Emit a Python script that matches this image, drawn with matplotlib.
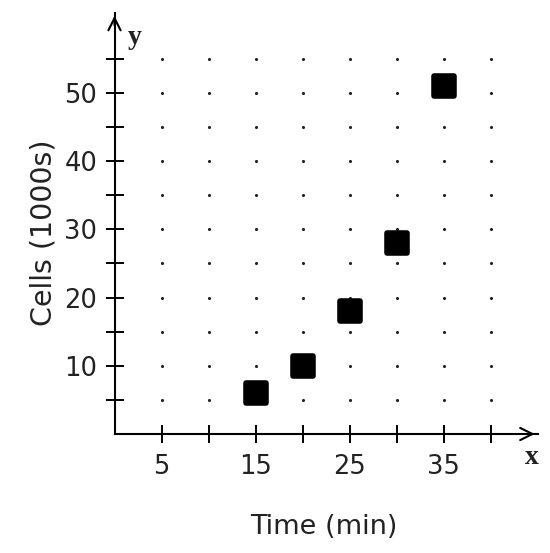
import matplotlib
matplotlib.use('Agg')
from matplotlib import pyplot as plt
from matplotlib.markers import MarkerStyle

# data
time_min = [15, 20, 25, 30, 35]
cells_k = [6, 10, 18, 28, 51]

x_labeled = [5, 15, 25, 35]
x_unlabeled = [10, 20, 30, 40]
y_labeled = [10, 20, 30, 40, 50]
y_unlabeled = [5, 15, 25, 35, 45, 55]

grid_x = [5, 10, 15, 20, 25, 30, 35, 40]
grid_y = [5, 10, 15, 20, 25, 30, 35, 40, 45, 50, 55]

text_color = '#222222'

fig = plt.figure(figsize=(5.5, 5.53), dpi=100)
ax = fig.add_axes([114.5 / 550, 119 / 553, 423 / 550, 421 / 553])
ax.set_xlim(0, 45)
ax.set_ylim(0, 61.7)

for s in ['top', 'right']:
    ax.spines[s].set_visible(False)
for s in ['left', 'bottom']:
    ax.spines[s].set_linewidth(1.5)
    ax.spines[s].set_color('black')

# dotted grid
gx = [x for x in grid_x for _ in grid_y]
gy = [y for _ in grid_x for y in grid_y]
ax.scatter(gx, gy, s=5, color='#222222', marker='o', linewidths=0, zorder=1)

# data points as rounded squares
ax.plot(time_min, cells_k, linestyle='none',
        marker=MarkerStyle('s', joinstyle='round'),
        ms=14, mfc='black', mec='black', mew=4, zorder=3)

ax.set_xticks(x_labeled)
ax.set_xticklabels([str(v) for v in x_labeled])
ax.set_xticks(x_unlabeled, minor=True)
ax.set_yticks(y_labeled)
ax.set_yticklabels([str(v) for v in y_labeled])
ax.set_yticks(y_unlabeled, minor=True)

ax.tick_params(which='both', direction='inout', length=13, width=1.4,
               color='black', labelcolor=text_color, labelsize=18.5)
ax.tick_params(axis='x', which='major', pad=8)
ax.tick_params(axis='y', which='major', pad=6)

# arrow heads on the axes
ax.annotate('', xy=(45, 0), xytext=(43.5, 0),
            arrowprops=dict(arrowstyle='->', lw=1.5, mutation_scale=22, color='black'),
            annotation_clip=False)
ax.annotate('', xy=(0, 61.7), xytext=(0, 59.5),
            arrowprops=dict(arrowstyle='->', lw=1.5, mutation_scale=22, color='black'),
            annotation_clip=False)

fig.text(532 / 550, 1 - 458 / 553, 'x', family='Liberation Serif', weight='bold',
         fontsize=20, color=text_color, ha='center', va='center')
fig.text(135 / 550, 1 - 38 / 553, 'y', family='Liberation Serif', weight='bold',
         fontsize=20, color=text_color, ha='center', va='center')

fig.text(324 / 550, 1 - 527 / 553, 'Time (min)', fontsize=19.5, color=text_color,
         ha='center', va='center')
fig.text(44 / 550, 1 - 233 / 553, 'Cells (1000s)', fontsize=20.5, color=text_color,
         ha='center', va='center', rotation=90)

plt.savefig('out.png', dpi=100)
plt.close()
